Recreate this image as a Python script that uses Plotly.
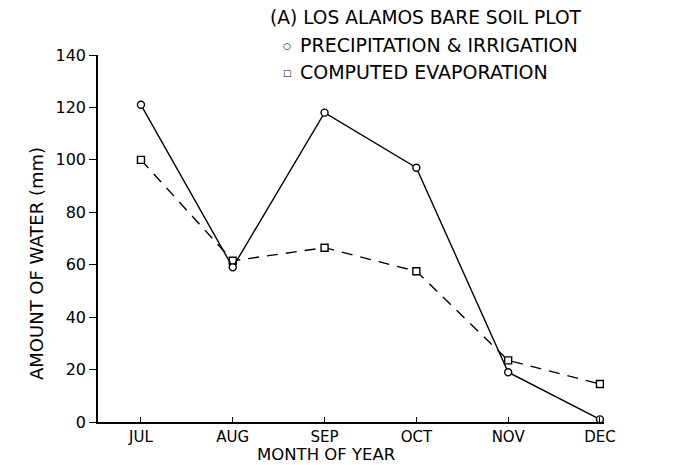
import plotly.graph_objects as go

months = ["JUL", "AUG", "SEP", "OCT", "NOV", "DEC"]
precip_irrigation = [121, 59, 118, 97, 19, 1]
computed_evaporation = [100, 61.5, 66.5, 57.5, 23.5, 14.5]
y_ticks = [0, 20, 40, 60, 80, 100, 120, 140]

xi = list(range(len(months)))
FONT = "DejaVu Sans, Verdana, sans-serif"

L, R, T, B = 90, 94, 47, 51
W, H = 690, 465
PW, PH = W - L - R, H - T - B

def px(x):
    return (x - L) / PW

def py(y):
    return (H - B - y) / PH

fig = go.Figure()
fig.add_trace(go.Scatter(
    x=xi, y=computed_evaporation, mode="lines+markers",
    line=dict(color="black", width=1.4, dash="11px,8px"),
    marker=dict(symbol="square", size=7, color="white", line=dict(color="black", width=1.4)),
    showlegend=False))
fig.add_trace(go.Scatter(
    x=xi, y=precip_irrigation, mode="lines+markers",
    line=dict(color="black", width=1.4),
    marker=dict(symbol="circle", size=7, color="white", line=dict(color="black", width=1.4)),
    showlegend=False))

fig.update_layout(
    width=W, height=H,
    margin=dict(l=L, r=R, t=T, b=B),
    paper_bgcolor="white", plot_bgcolor="white",
    font=dict(family=FONT, color="black", size=16),
    xaxis=dict(
        range=[-0.468, 5.044], tickmode="array", tickvals=xi, ticktext=months,
        showline=True, linecolor="black", linewidth=1.5, showgrid=False, zeroline=False,
        ticks="inside", ticklen=5, tickcolor="black", tickwidth=1,
        tickfont=dict(size=15),
    ),
    yaxis=dict(
        range=[0, 140], tickmode="array", tickvals=y_ticks,
        showline=True, linecolor="black", linewidth=1.5, showgrid=False, zeroline=False,
        ticks="outside", ticklen=7, tickcolor="black", tickwidth=1,
        tickfont=dict(size=16),
    ),
)

def ann(x, y, text, size, xanchor="left", angle=0, family=FONT):
    fig.add_annotation(x=px(x), y=py(y), xref="paper", yref="paper",
                       xanchor=xanchor, yanchor="middle", showarrow=False, textangle=angle,
                       text=text, font=dict(family=family, size=size, color="black"))

ann(260, 9, "(A) LOS ALAMOS BARE SOIL PLOT", 18.6)
ann(290, 37, "PRECIPITATION &amp; IRRIGATION", 19)
ann(290, 64, "COMPUTED EVAPORATION", 19)
ann(279, 38, "○", 9, xanchor="center", family="DejaVu Sans")
ann(279, 65, "□", 9, xanchor="center", family="DejaVu Sans")
ann(318, 446, "MONTH OF YEAR", 16.5, xanchor="center")
ann(28, 256, "AMOUNT OF WATER (mm)", 18, xanchor="center", angle=-90)

fig.write_html("out.html")
